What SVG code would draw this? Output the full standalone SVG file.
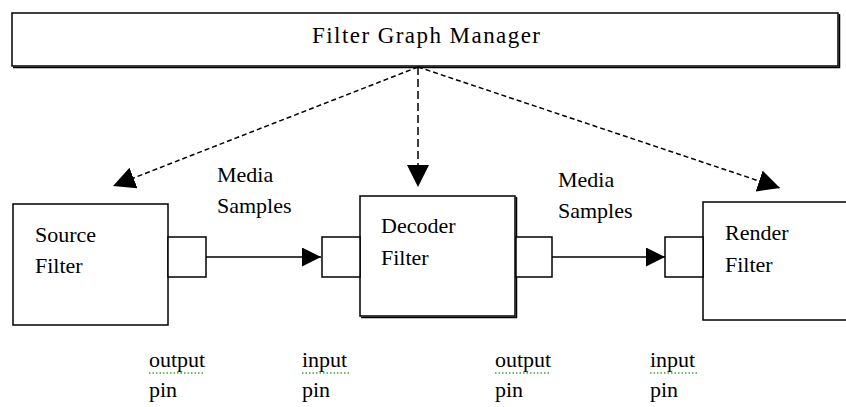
<svg xmlns="http://www.w3.org/2000/svg" width="846" height="407" viewBox="0 0 846 407">
<style>
.box{fill:#fff;stroke:#000;stroke-width:1.5}
.shadow{fill:none;stroke:#000;stroke-width:1.5}
.t{font-family:"Liberation Serif","Times New Roman",serif;font-size:22px;fill:#000}
.title{font-size:23px}
.dash{fill:none;stroke:#000;stroke-width:1.5;stroke-dasharray:5 3}
.dashv{fill:none;stroke:#000;stroke-width:1.5;stroke-dasharray:8 4}
.flow{fill:none;stroke:#000;stroke-width:1.5}
.squig{fill:none;stroke:#3aa43a;stroke-width:1.5;stroke-dasharray:1.5 2}
</style>
<defs>
<marker id="head" viewBox="0 0 20 20" refX="20" refY="10" markerWidth="20" markerHeight="19" markerUnits="userSpaceOnUse" orient="auto">
<path d="M0,0 L20,10 L0,20 z" fill="#000"/>
</marker>
<marker id="headBig" viewBox="0 0 22 22" refX="22" refY="11" markerWidth="22" markerHeight="22" markerUnits="userSpaceOnUse" orient="auto">
<path d="M0,0 L22,11 L0,22 z" fill="#000"/>
</marker>
</defs>
<rect width="846" height="407" fill="#fff"/>

<g id="manager">
<rect class="box" x="12" y="13" width="826" height="53"/>
<polyline class="shadow" points="13,67.5 839.5,67.5 839.5,14"/>
<text class="t title" x="312" y="43" textLength="228" lengthAdjust="spacing">Filter Graph Manager</text>
</g>

<g id="source">
<rect class="box" x="13" y="204" width="155" height="121"/>
<text class="t" x="35" y="242">Source</text>
<text class="t" x="35" y="273">Filter</text>
<rect class="box" x="168" y="237" width="38" height="40"/>
</g>

<g id="decoder">
<rect class="box" x="360" y="196" width="155" height="120"/>
<polyline class="shadow" points="361,317.5 516.5,317.5 516.5,197"/>
<text class="t" x="381" y="233">Decoder</text>
<text class="t" x="381" y="265">Filter</text>
<rect class="box" x="322" y="237" width="38" height="40"/>
<rect class="box" x="516" y="237" width="36" height="40"/>
</g>

<g id="render">
<rect class="box" x="703" y="202" width="150" height="118"/>
<text class="t" x="725" y="240">Render</text>
<text class="t" x="725" y="272">Filter</text>
<rect class="box" x="665" y="237" width="38" height="40"/>
</g>

<g id="connectors">
<line class="dash" x1="418" y1="67" x2="113" y2="186" marker-end="url(#headBig)"/>
<line class="dashv" x1="418" y1="67" x2="418" y2="187" marker-end="url(#headBig)"/>
<line class="dash" x1="418" y1="67" x2="780" y2="188" marker-end="url(#headBig)"/>
<line class="flow" x1="206" y1="257" x2="321" y2="257" marker-end="url(#head)"/>
<line class="flow" x1="552" y1="257" x2="665" y2="257" marker-end="url(#head)"/>
</g>

<g id="labels">
<text class="t" x="217" y="182">Media</text>
<text class="t" x="217" y="213">Samples</text>
<text class="t" x="558" y="187">Media</text>
<text class="t" x="558" y="218">Samples</text>
<text class="t" x="149" y="367">output</text>
<text class="t" x="149" y="397">pin</text>
<text class="t" x="302" y="367">input</text>
<text class="t" x="302" y="397">pin</text>
<text class="t" x="495" y="367">output</text>
<text class="t" x="495" y="397">pin</text>
<text class="t" x="650" y="367">input</text>
<text class="t" x="650" y="397">pin</text>
<line class="squig" x1="149" y1="373" x2="203" y2="373"/>
<line class="squig" x1="302" y1="373" x2="350" y2="373"/>
<line class="squig" x1="495" y1="373" x2="549" y2="373"/>
<line class="squig" x1="650" y1="373" x2="698" y2="373"/>
</g>
</svg>
